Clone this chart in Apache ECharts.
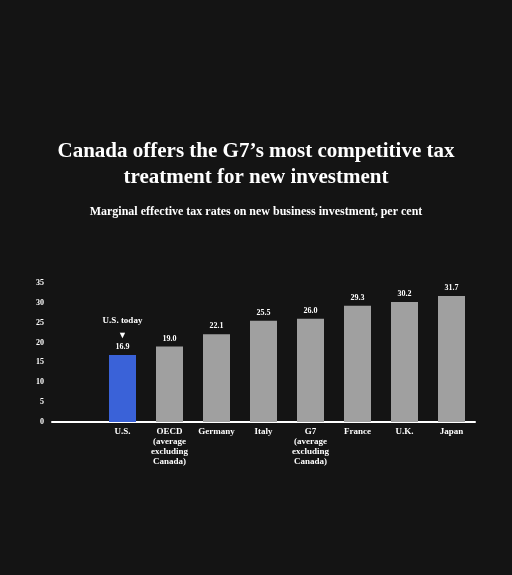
<!DOCTYPE html>
<html><head><meta charset="utf-8">
<script src="https://cdn.jsdelivr.net/npm/echarts@6/dist/echarts.min.js"></script>
<style>html,body{margin:0;background:#141414}#c{width:512px;height:575px}</style>
</head><body><div id="c"></div>
<script>
const categories = ['', 'U.S.', 'OECD\n(average\nexcluding\nCanada)', 'Germany', 'Italy', 'G7\n(average\nexcluding\nCanada)', 'France', 'U.K.', 'Japan'];
const values = [null, 16.9, 19.0, 22.1, 25.5, 26.0, 29.3, 30.2, 31.7];
const yTicks = [0, 5, 10, 15, 20, 25, 30, 35];
const F = 'Liberation Serif';
const chart = echarts.init(document.getElementById('c'));
chart.setOption({
  backgroundColor: '#141414',
  title: [
    {text: 'Canada offers the G7\u2019s most competitive tax\ntreatment for new investment', left: 'center', top: 134,
     textStyle: {color: '#fff', fontFamily: F, fontWeight: 'bold', fontSize: 21, lineHeight: 26}},
    {text: 'Marginal effective tax rates on new business investment, per cent', left: 'center', top: 201,
     textStyle: {color: '#fff', fontFamily: F, fontWeight: 'bold', fontSize: 12}}
  ],
  grid: {left: 52, right: 37, top: 283, bottom: 153, containLabel: false},
  xAxis: {type: 'category', data: categories,
    axisLine: {lineStyle: {color: '#fff', width: 2}}, axisTick: {show: false},
    axisLabel: {color: '#fff', fontFamily: F, fontWeight: 'bold', fontSize: 9, lineHeight: 10, interval: 0, margin: 5}},
  yAxis: {type: 'value', min: 0, max: 35, interval: 5, splitLine: {show: false},
    axisLine: {show: false}, axisTick: {show: false},
    axisLabel: {color: '#fff', fontFamily: F, fontWeight: 'bold', fontSize: 8, margin: 8}},
  series: [{type: 'bar', data: values.map((v, i) => ({value: v, itemStyle: {color: i === 1 ? '#3a62d8' : '#a0a0a0'}})),
    barWidth: 27,
    label: {show: true, position: 'top', distance: 4, color: '#fff', fontFamily: F, fontWeight: 'bold', fontSize: 8,
      formatter: p => p.dataIndex === 1 ? '{a|U.S. today}\n{b|\u25BC}\n' + p.value.toFixed(1) : p.value.toFixed(1),
      rich: {a: {fontSize: 9, fontFamily: F, fontWeight: 'bold', color: '#fff', lineHeight: 16},
             b: {fontSize: 9, color: '#fff', lineHeight: 14}}}
  }]
});
</script></body></html>
